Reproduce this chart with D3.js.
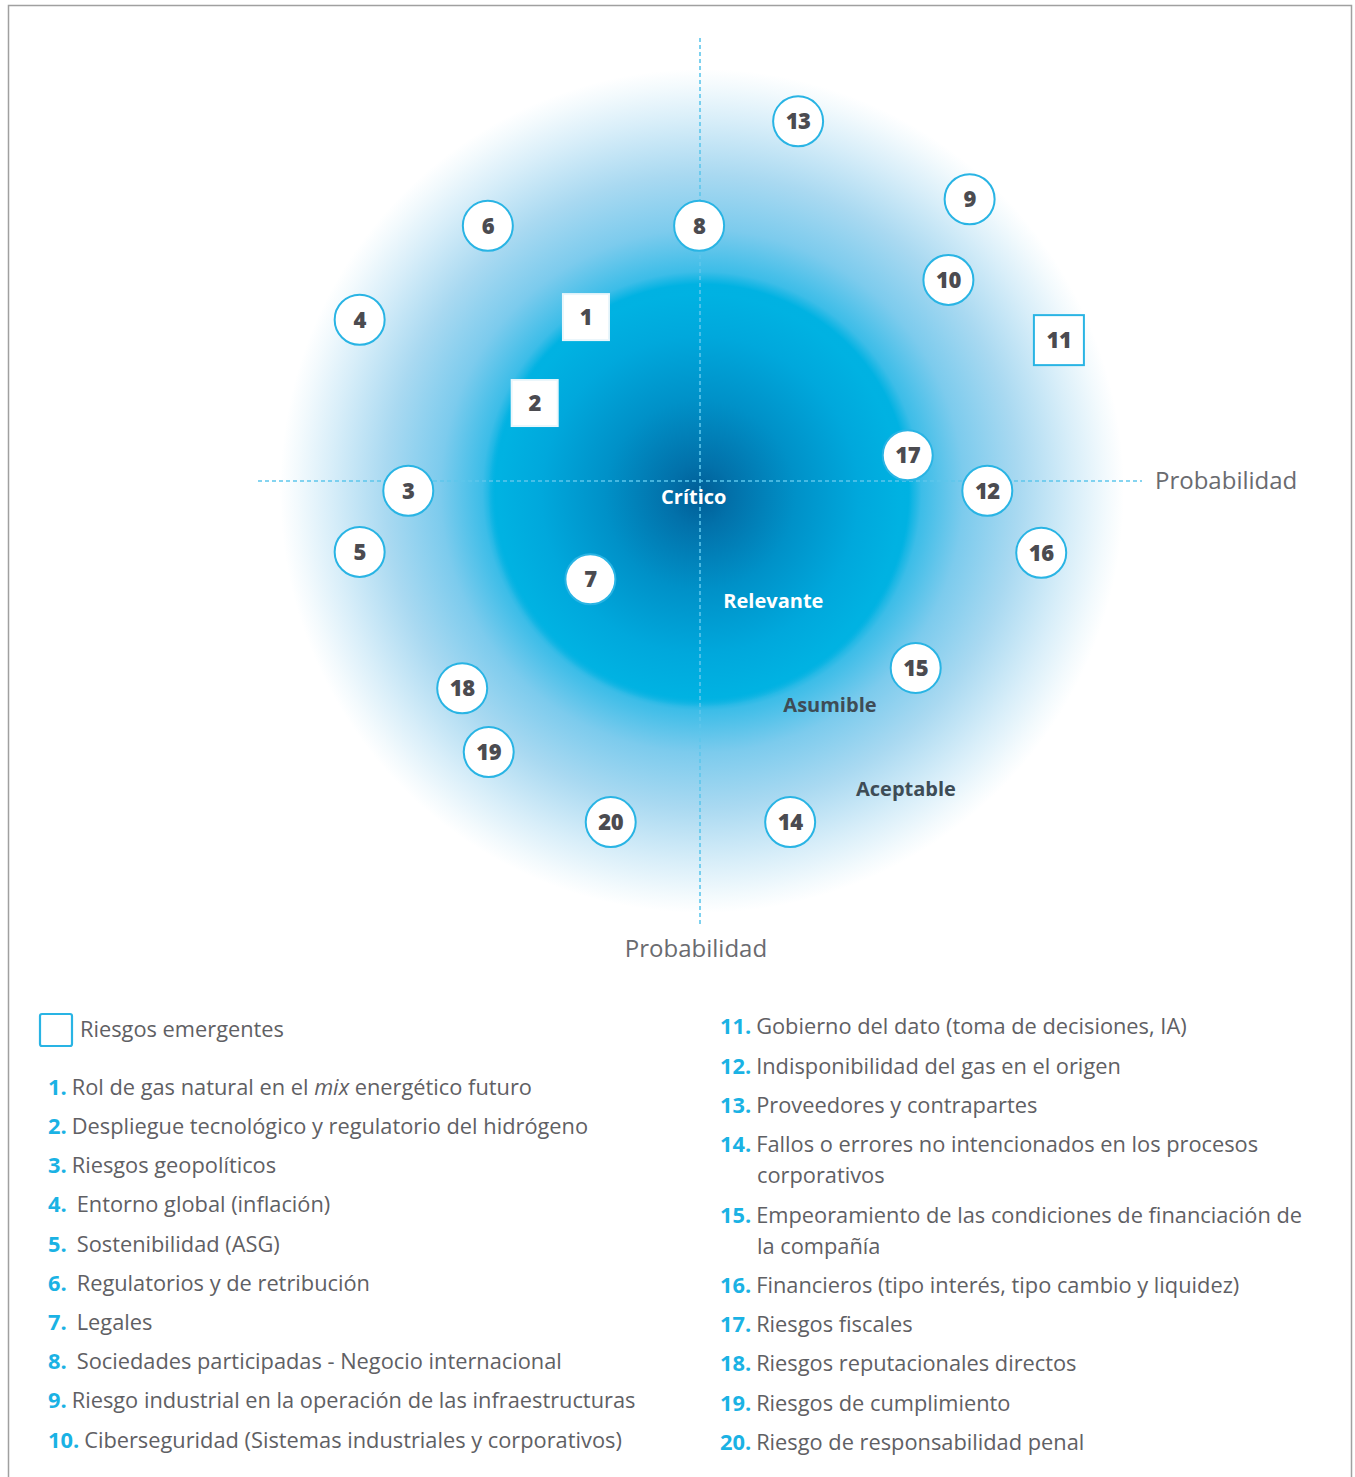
<!DOCTYPE html>
<html><head><meta charset="utf-8">
<script src="https://cdn.jsdelivr.net/npm/d3@7"></script>
<style>
html,body{margin:0;padding:0;background:#fff;}
svg{display:block;}
</style></head>
<body>
<script>
// ---- data ----
const riskIds = [1,2,3,4,5,6,7,8,9,10,11,12,13,14,15,16,17,18,19,20];
const riskX   = [37.1,31.3,17.0,11.5,11.5,26.0,37.6,49.9,80.5,78.1,90.6,82.5,61.1,60.2,74.4,88.6,73.5,23.1,26.1,39.9];
const riskY   = [68.5,58.8,48.9,68.2,42.0,78.8,38.9,78.8,81.8,72.7,65.9,48.9,90.6,11.5,28.9,41.9,52.9,26.6,19.4,11.5];
const emergent = [1,2,11];
const riskNames = [
  "Rol de gas natural en el |mix| energético futuro",
  "Despliegue tecnológico y regulatorio del hidrógeno",
  "Riesgos geopolíticos",
  "Entorno global (inflación)",
  "Sostenibilidad (ASG)",
  "Regulatorios y de retribución",
  "Legales",
  "Sociedades participadas - Negocio internacional",
  "Riesgo industrial en la operación de las infraestructuras",
  "Ciberseguridad (Sistemas industriales y corporativos)",
  "Gobierno del dato (toma de decisiones, IA)",
  "Indisponibilidad del gas en el origen",
  "Proveedores y contrapartes",
  "Fallos o errores no intencionados en los procesos/corporativos",
  "Empeoramiento de las condiciones de financiación de/la compañía",
  "Financieros (tipo interés, tipo cambio y liquidez)",
  "Riesgos fiscales",
  "Riesgos reputacionales directos",
  "Riesgos de cumplimiento",
  "Riesgo de responsabilidad penal"
];
const zoneLabels = ["Crítico","Relevante","Asumible","Aceptable"];
const zoneX = [49.3, 58.3, 64.7, 73.3];
const zoneY = [48.2, 36.5, 24.7, 15.2];
const axisLabel = "Probabilidad";
const legendTitle = "Riesgos emergentes";

// ---- layout ----
const W = 1355, H = 1477;
const svg = d3.select("body").append("svg").attr("width", W).attr("height", H);
const x = d3.scaleLinear().domain([0,100]).range([258,1142]);
const y = d3.scaleLinear().domain([0,100]).range([924,38]);
const cyan = "#29b4e4";
const dark = "#4b4b50";
const gray = "#5f6064";

svg.append("rect").attr("x",8.5).attr("y",5.5).attr("width",1343).attr("height",1490)
  .attr("fill","none").attr("stroke","#a0a0a0").attr("stroke-width",1.5);

const defs = svg.append("defs");
const g1 = defs.append("radialGradient").attr("id","outer");
[[0,"#00a6dc",1],[0.49,"#00b2e2",1],[0.52,"#3cbde8",1],[0.62,"#7ccbed",1],[0.75,"#a9d9f1",1],[0.88,"#d8eef9",1],[0.96,"#f3fafd",1],[1,"#ffffff",1]]
  .forEach(s=>g1.append("stop").attr("offset",s[0]).attr("stop-color",s[1]).attr("stop-opacity",s[2]));
const g2 = defs.append("radialGradient").attr("id","inner");
[[0,"#005d96",1],[0.15,"#0271aa",1],[0.45,"#0091c8",1],[0.75,"#00a8dc",1],[0.95,"#00b2e2",1],[1,"#00b2e2",0]]
  .forEach(s=>g2.append("stop").attr("offset",s[0]).attr("stop-color",s[1]).attr("stop-opacity",s[2]));

const cx = x(50), cy = y(50);
svg.append("circle").attr("cx",cx+2).attr("cy",cy+10).attr("r",422).attr("fill","url(#outer)");
svg.append("circle").attr("cx",cx).attr("cy",cy+14).attr("r",212).attr("fill","url(#inner)");

// axes dashed
const dashC = "#5ec6ec";
svg.append("line").attr("x1",x(50)).attr("x2",x(50)).attr("y1",y(100)).attr("y2",y(0))
  .attr("stroke",dashC).attr("stroke-width",1.6).attr("stroke-dasharray","4,3");
svg.append("line").attr("x1",x(0)).attr("x2",x(100)).attr("y1",y(50)).attr("y2",y(50))
  .attr("stroke",dashC).attr("stroke-width",1.6).attr("stroke-dasharray","4,3");

svg.append("text").attr("x",x(100)+13).attr("y",y(50)+8).text(axisLabel)
  .attr("font-family","Open Sans").attr("font-size",24).attr("fill","#6a6b6f");
svg.append("text").attr("x",x(50)-4).attr("y",y(0)+33).attr("text-anchor","middle").text(axisLabel)
  .attr("font-family","Open Sans").attr("font-size",24).attr("fill","#6a6b6f");

// zone labels
zoneLabels.forEach((t,i)=>{
  svg.append("text").attr("x",x(zoneX[i])).attr("y",y(zoneY[i])+7).attr("text-anchor","middle")
    .text(t).attr("font-family","Open Sans").attr("font-weight",700).attr("font-size",20)
    .attr("fill", i<2 ? "#ffffff" : "#3e4c56");
});

// markers
const data = riskIds.map((id,i)=>({id, x:riskX[i], y:riskY[i], em: emergent.includes(id)}));
const mg = svg.append("g").selectAll("g").data(data).join("g")
  .attr("transform",d=>`translate(${x(d.x)},${y(d.y)})`);
mg.filter(d=>!d.em).append("circle").attr("r",25).attr("fill","#fff").attr("stroke",cyan).attr("stroke-width",2);
mg.filter(d=>d.em).append("rect").attr("x",d=>d.id===11?-25:-23).attr("y",d=>d.id===11?-25:-23)
  .attr("width",d=>d.id===11?50:46).attr("height",d=>d.id===11?50:46)
  .attr("fill","#fff").attr("stroke",d=>d.id===11?cyan:"#eaf6fb").attr("stroke-width",2);
mg.append("text").attr("text-anchor","middle").attr("y",8).text(d=>d.id)
  .attr("font-family","Open Sans").attr("font-weight",800).attr("font-size",22).attr("fill",dark)
  .attr("letter-spacing",-0.5);

// legend
const lg = svg.append("g").attr("font-family","Open Sans").attr("font-size",21.8);
lg.append("rect").attr("x",40).attr("y",1014).attr("width",32).attr("height",32).attr("rx",2)
  .attr("fill","none").attr("stroke",cyan).attr("stroke-width",2.2);
lg.append("text").attr("x",80).attr("y",1037).text(legendTitle).attr("fill",gray);

const leftY = [1087,1126,1165,1204,1244,1283,1322,1361,1400,1440];
const rightY = [1026,1066,1105,1144,1215,1285,1324,1363,1403,1442];
riskNames.forEach((name,i)=>{
  const id = i+1;
  const left = id<=10;
  const nx = left ? 48 : 720;
  const ty = (left ? leftY[i] : rightY[i-10]) + 8;
  const t = lg.append("text").attr("x",nx).attr("y",ty).attr("fill",gray);
  t.append("tspan").text(id+".").attr("fill","#1ab2e4").attr("font-weight",700);
  const lines = name.split("/");
  const extra = (id>=4 && id<=8) ? 10 : 5;
  lines.forEach((ln,k)=>{
    const parts = ln.split("|");
    parts.forEach((p,j)=>{
      const ts = t.append("tspan").text(p);
      if (j===0 && k===0) ts.attr("dx",extra);
      if (j===0 && k>0) ts.attr("x", 757).attr("dy",31);
      if (j%2===1) ts.attr("font-style","italic");
    });
  });
});
</script>
</body></html>
